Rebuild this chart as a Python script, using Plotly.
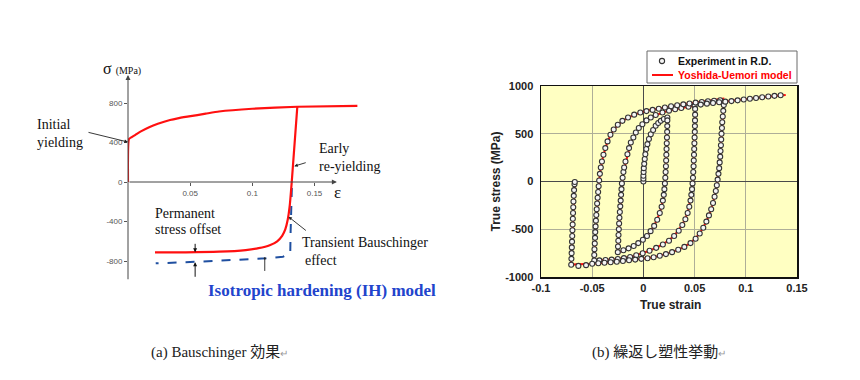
import plotly.graph_objects as go

W, H = 860, 380

# ---------------- (a) Bauschinger effect : schematic data ----------------
a_load_strain = [0, 0.0008, 0.003, 0.006, 0.010, 0.017, 0.024, 0.0338, 0.040, 0.049, 0.0625, 0.0732, 0.1, 0.1362, 0.1845]
a_load_stress = [0, 435, 455, 478, 510, 555, 590, 628, 645, 664, 692, 714, 742, 762, 772]

a_rev_strain = [0.1362, 0.1317, 0.1300, 0.1285, 0.1265, 0.1240, 0.1200, 0.1140, 0.1050, 0.0947, 0.0732, 0.0464, 0.0217]
a_rev_stress = [765, 0, -250, -380, -480, -545, -600, -640, -670, -689, -706, -712, -712]

a_ih_strain = [0.1318, 0.1313, 0.1308, 0.1305, 0.1247, 0.1113, 0.0732, 0.0464, 0.0223]
a_ih_stress = [-60, -200, -500, -722, -756, -773, -800, -813, -823]

a_ytick_vals = [-800, -400, 0, 400, 800]
a_ytick_text = ["-800", "-400", "0", "400", "800"]
a_xtick_vals = [0.05, 0.1, 0.15]
a_xtick_text = ["0.05", "0.1", "0.15"]

# ---------------- (b) cyclic plastic behaviour : experiment (circles) ----------------
e1_strain = [0, 0, 0, 0.0002, 0.0004, 0.0008, 0.0013, 0.0019, 0.0028, 0.0039, 0.0054, 0.0072, 0.0095, 0.012, 0.0145, 0.017, 0.020, 0.0234]
e1_stress = [0, 30, 60, 100, 140, 185, 235, 286, 340, 391, 445, 495, 540, 583, 612, 635, 655, 670]

e2_strain = [0.0234, 0.0233, 0.0232, 0.023, 0.0228, 0.0226, 0.0224, 0.0222, 0.022, 0.0217, 0.0214, 0.021, 0.0205, 0.0199,
             0.019, 0.0178, 0.016, 0.0135, 0.0105, 0.007, 0.0035, -0.0005, -0.005, -0.0095, -0.0145, -0.0195, -0.025]
e2_stress = [640, 580, 520, 460, 400, 340, 280, 220, 160, 100, 40, -20, -80, -140,
             -200, -265, -330, -400, -465, -520, -570, -610, -645, -675, -700, -720, -740]

e3_strain = [-0.0248, -0.0245, -0.0243, -0.024, -0.0237, -0.0234, -0.023, -0.0226, -0.0222, -0.0218, -0.0214, -0.021,
             -0.0203, -0.0195, -0.0188, -0.0175, -0.0156, -0.014, -0.0123, -0.0098, -0.0074, -0.0045, -0.001, 0.003,
             0.0072, 0.012, 0.0186, 0.025, 0.031, 0.037, 0.044, 0.050]
e3_stress = [-680, -620, -560, -500, -440, -380, -320, -260, -200, -140, -80, -20,
             40, 100, 147, 210, 286, 350, 408, 460, 513, 560, 600, 640,
             670, 697, 722, 742, 757, 770, 782, 792]

e4_strain = [0.0505, 0.0505, 0.0504, 0.0503, 0.0502, 0.05, 0.0498, 0.0496, 0.0494, 0.0492, 0.049, 0.0487, 0.0484, 0.048,
             0.0475, 0.0468, 0.046, 0.0448, 0.0432, 0.041, 0.038, 0.0345, 0.030, 0.025, 0.019, 0.0125, 0.006, -0.0007,
             -0.007, -0.013, -0.019, -0.025, -0.031, -0.037, -0.043, -0.048]
e4_stress = [760, 700, 640, 580, 520, 460, 400, 340, 280, 220, 160, 100, 40, -20,
             -80, -140, -200, -265, -330, -395, -455, -515, -570, -620, -660, -695, -725, -752,
             -772, -790, -802, -812, -818, -822, -826, -828]

e5_strain = [-0.048, -0.0478, -0.0475, -0.0472, -0.047, -0.0467, -0.0464, -0.046, -0.0456, -0.0452, -0.0447, -0.0442,
             -0.0437, -0.0432, -0.0425, -0.0416, -0.0405, -0.039, -0.0372, -0.035, -0.0322, -0.029, -0.025, -0.0205,
             -0.015, -0.009, -0.003, 0.003, 0.009, 0.015, 0.021, 0.027, 0.033, 0.039, 0.045, 0.051, 0.057, 0.063,
             0.069, 0.075]
e5_stress = [-770, -710, -650, -590, -530, -470, -410, -350, -290, -230, -170, -110,
             -50, 10, 80, 147, 210, 280, 350, 420, 490, 545, 595, 635,
             670, 700, 722, 737, 750, 762, 775, 788, 798, 808, 817, 826, 833, 840,
             846, 851]

e6_strain = [0.0785, 0.078, 0.0775, 0.077, 0.0767, 0.0763, 0.076, 0.0757, 0.0753, 0.075, 0.0745, 0.074, 0.0733, 0.0725,
             0.0717, 0.0707, 0.0695, 0.068, 0.0662, 0.064, 0.0615, 0.0585, 0.055, 0.051, 0.046, 0.040, 0.034, 0.028,
             0.022, 0.016, 0.010, 0.004, -0.002, -0.008, -0.014, -0.020, -0.026, -0.032, -0.038, -0.044, -0.050,
             -0.056, -0.0635]
e6_stress = [800, 740, 680, 620, 560, 500, 440, 380, 320, 260, 200, 140, 80, 20,
             -40, -100, -160, -225, -290, -355, -420, -485, -545, -600, -645, -685, -715, -740,
             -760, -778, -793, -803, -810, -818, -825, -833, -840, -846, -851, -856, -861,
             -876, -884]

e7_strain = [-0.0705, -0.0703, -0.0701, -0.0699, -0.0697, -0.0695, -0.0693, -0.0691, -0.0689, -0.0687, -0.0685,
             -0.0683, -0.068, -0.0677, -0.0673, -0.067]
e7_stress = [-872, -810, -750, -690, -630, -570, -510, -450, -390, -330, -270,
             -210, -150, -90, -30, -5]

e8_strain = [0.056, 0.062, 0.068, 0.074, 0.080, 0.086, 0.092, 0.098, 0.104, 0.110, 0.116, 0.122, 0.128, 0.134]
e8_stress = [805, 815, 822, 830, 836, 842, 850, 858, 866, 874, 882, 890, 897, 903]

# ---------------- (b) Yoshida-Uemori model (red line) ----------------
m_cycle_strain = [0, 0, 0.001, 0.002, 0.004, 0.0072, 0.012, 0.017, 0.0234,
                  0.0228, 0.0222, 0.0214, 0.0205, 0.019, 0.016, 0.0105, 0.0035, -0.005, -0.0145, -0.025,
                  -0.0245, -0.0237, -0.0226, -0.0214, -0.0195, -0.0156, -0.0123, -0.0074, -0.001, 0.0072, 0.0186,
                  0.031, 0.044, 0.0505,
                  0.0502, 0.0494, 0.0484, 0.0468, 0.0432, 0.038, 0.030, 0.019, 0.006, -0.007, -0.019, -0.031, -0.048,
                  -0.047, -0.0456, -0.0442, -0.0432, -0.0416, -0.039, -0.035, -0.029, -0.0205, -0.009, 0.003, 0.015,
                  0.027, 0.039, 0.051, 0.063, 0.078,
                  0.078, 0.077, 0.076, 0.075, 0.0733, 0.0717, 0.0695, 0.0662, 0.0615, 0.055, 0.046, 0.034, 0.022,
                  0.010, -0.002, -0.014, -0.026, -0.038, -0.050, -0.062, -0.0706,
                  -0.0705, -0.0697, -0.0689, -0.068, -0.067]
m_cycle_stress = [0, 150, 230, 300, 391, 495, 583, 635, 672,
                  400, 200, 40, -80, -200, -330, -465, -570, -645, -700, -745,
                  -620, -440, -260, -80, 100, 286, 408, 513, 600, 670, 722,
                  757, 782, 795,
                  520, 280, 40, -140, -330, -455, -570, -660, -725, -772, -802, -818, -828,
                  -530, -290, -110, 10, 147, 280, 420, 545, 635, 700, 740, 765,
                  790, 810, 828, 845, 868,
                  740, 620, 440, 260, 80, -40, -160, -290, -420, -545, -645, -715, -760,
                  -793, -810, -825, -840, -851, -861, -866, -870,
                  -810, -630, -390, -150, 0]
m_tail_strain = [0.056, 0.070, 0.085, 0.100, 0.115, 0.130, 0.139]
m_tail_stress = [806, 825, 843, 864, 881, 897, 905]

b_xtick_vals = [-0.1, -0.05, 0, 0.05, 0.1, 0.15]
b_xtick_text = ["-0.1", "-0.05", "0", "0.05", "0.1", "0.15"]
b_ytick_vals = [-1000, -500, 0, 500, 1000]
b_ytick_text = ["-1000", "-500", "0", "500", "1000"]

legend_names = ["Experiment in R.D.", "Yoshida-Uemori model"]

# ---------------------------------------------------------------------------
def px(x):
    return x / W


def py(y):
    return 1 - y / H


SERIF = "Liberation Serif, Times New Roman, Noto Sans CJK JP, serif"
SANS = "Liberation Sans, Arial, sans-serif"
RED = "#ff1010"
EXP_MARKER = dict(symbol="circle", size=5, color="#f6f6f6", line=dict(color="#333333", width=1.1))

fig = go.Figure()

# (a) curves
fig.add_trace(go.Scatter(x=a_ih_strain, y=a_ih_stress, mode="lines", line=dict(color="#1f4fa0", width=2, dash="dash"),
                         xaxis="x", yaxis="y", showlegend=False, hoverinfo="skip"))
fig.add_trace(go.Scatter(x=a_load_strain, y=a_load_stress, mode="lines", line=dict(color=RED, width=2.2, shape="spline", smoothing=0.5),
                         xaxis="x", yaxis="y", showlegend=False, hoverinfo="skip"))
fig.add_trace(go.Scatter(x=a_rev_strain, y=a_rev_stress, mode="lines", line=dict(color=RED, width=2.2, shape="spline", smoothing=0.6),
                         xaxis="x", yaxis="y", showlegend=False, hoverinfo="skip"))

# (b) model + experiment
m_x = m_cycle_strain + [None] + m_tail_strain
m_y = m_cycle_stress + [None] + m_tail_stress
e_x = e1_strain + e2_strain + e3_strain + e4_strain + e5_strain + e6_strain + e7_strain + e8_strain
e_y = e1_stress + e2_stress + e3_stress + e4_stress + e5_stress + e6_stress + e7_stress + e8_stress

fig.add_trace(go.Scatter(x=m_x, y=m_y, mode="lines", name=legend_names[1],
                         line=dict(color=RED, width=2), connectgaps=False, showlegend=False,
                         xaxis="x2", yaxis="y2", hoverinfo="skip"))
fig.add_trace(go.Scatter(x=e_x, y=e_y, mode="markers", name=legend_names[0], showlegend=False,
                         marker=EXP_MARKER, xaxis="x2", yaxis="y2", hoverinfo="skip"))

tickfont_a = dict(family=SANS, size=8, color="#555")
tickfont_b = dict(family=SANS, size=11, color="#222", weight="bold")

fig.update_layout(
    width=W, height=H, autosize=False,
    margin=dict(l=0, r=0, t=0, b=0, pad=0),
    paper_bgcolor="white",
    plot_bgcolor="white",
    showlegend=False,
    xaxis=dict(domain=[px(128), px(358)], range=[0, 0.185], anchor="free", position=py(182),
               showgrid=False, zeroline=False, showline=False, automargin=False,
               tickvals=a_xtick_vals, ticktext=a_xtick_text, ticks="outside", ticklen=3,
               tickcolor="#555", tickfont=tickfont_a, fixedrange=True),
    yaxis=dict(domain=[py(300.5), py(73.4)], range=[-1200, 1100], anchor="x",
               showgrid=False, zeroline=False, showline=False, automargin=False,
               tickvals=a_ytick_vals, ticktext=a_ytick_text, ticks="outside", ticklen=3,
               tickcolor="#555", tickfont=tickfont_a, fixedrange=True),
    xaxis2=dict(domain=[px(541), px(797)], range=[-0.1, 0.15], anchor="y2", automargin=False,
                showgrid=True, gridcolor="#aeae98", gridwidth=1,
                zeroline=True, zerolinecolor="#4a4a4a", zerolinewidth=1,
                showline=True, linecolor="#111", linewidth=1.5, mirror=True,
                tickvals=b_xtick_vals, ticktext=b_xtick_text, ticks="", tickfont=tickfont_b,
                fixedrange=True),
    yaxis2=dict(domain=[py(277), py(86)], range=[-1000, 1000], anchor="x2", automargin=False,
                showgrid=True, gridcolor="#aeae98", gridwidth=1,
                zeroline=True, zerolinecolor="#4a4a4a", zerolinewidth=1,
                showline=True, linecolor="#111", linewidth=1.5, mirror=True,
                tickvals=b_ytick_vals, ticktext=b_ytick_text, ticks="", tickfont=tickfont_b,
                ticklabelstandoff=4, fixedrange=True),
)

# yellow plot background for panel (b)
fig.add_shape(type="rect", xref="x2 domain", yref="y2 domain", x0=0, x1=1, y0=0, y1=1,
              fillcolor="#ffffc2", line=dict(width=0), layer="below")

# legend box for panel (b) (key only)
fig.add_shape(type="rect", xref="paper", yref="paper", x0=px(647), x1=px(797), y0=py(83), y1=py(51),
              fillcolor="white", line=dict(color="#6a6a6a", width=1))
fig.add_shape(type="circle", xref="paper", yref="paper", x0=px(659.4), x1=px(664.6), y0=py(63.6), y1=py(58.4),
              fillcolor="#f6f6f6", line=dict(color="#333333", width=1.1))
fig.add_shape(type="line", xref="paper", yref="paper", x0=px(652), x1=px(673), y0=py(75), y1=py(75),
              line=dict(color=RED, width=2))

ann = []
# legend texts
ann.append(dict(x=px(676), y=py(61), xref="paper", yref="paper", xanchor="left", yanchor="middle",
                text=legend_names[0], showarrow=False,
                font=dict(family=SANS, size=10.5, color="#111", weight="bold")))
ann.append(dict(x=px(676), y=py(75), xref="paper", yref="paper", xanchor="left", yanchor="middle",
                text=legend_names[1], showarrow=False,
                font=dict(family=SANS, size=10.5, color="#ff0000", weight="bold")))

# axis arrows for (a)
ann.append(dict(x=0, y=1085, ax=0, ay=-1000, xref="x", yref="y", axref="x", ayref="y", text="",
                showarrow=True, arrowhead=2, arrowsize=1, arrowwidth=1, arrowcolor="#444"))
ann.append(dict(x=0.168, y=0, ax=0, ay=0, xref="x", yref="y", axref="x", ayref="y", text="",
                showarrow=True, arrowhead=2, arrowsize=1, arrowwidth=1, arrowcolor="#444"))
# axis captions (a)
ann.append(dict(x=px(101), y=py(68), xref="paper", yref="paper", xanchor="left", yanchor="middle",
                text="σ <span style='font-size:10px'>(MPa)</span>", showarrow=False,
                font=dict(family=SERIF, size=16, color="#111")))
ann.append(dict(x=px(337), y=py(192), xref="paper", yref="paper", xanchor="center", yanchor="middle",
                text="ε", showarrow=False, font=dict(family=SERIF, size=17, color="#111")))

# text annotations (a)
txt = dict(family=SERIF, size=14, color="#111")
for s, x0, yc in [("Initial", 35, 124), ("yielding", 35, 142),
                  ("Early", 317, 148), ("re-yielding", 317, 167),
                  ("Permanent", 153, 213), ("stress offset", 153, 229),
                  ("Transient Bauschinger", 300, 242), ("effect", 303, 260)]:
    ann.append(dict(x=px(x0), y=py(yc), xref="paper", yref="paper", xanchor="left", yanchor="middle",
                    text=s, showarrow=False, font=txt))

ann.append(dict(x=0, y=405, xref="x", yref="y", ax=-41, ay=-10, text="", showarrow=True,
                arrowhead=2, arrowsize=0.8, arrowwidth=0.9, arrowcolor="#222"))
ann.append(dict(x=0.1337, y=160, xref="x", yref="y", ax=13, ay=-4, text="", showarrow=True,
                arrowhead=2, arrowsize=0.8, arrowwidth=0.9, arrowcolor="#222"))
ann.append(dict(x=0.054, y=-712, xref="x", yref="y", ax=0, ay=-10, text="", showarrow=True,
                arrowhead=2, arrowsize=0.8, arrowwidth=1, arrowcolor="#111"))
ann.append(dict(x=0.054, y=-813, xref="x", yref="y", ax=0, ay=16, text="", showarrow=True,
                arrowhead=2, arrowsize=0.8, arrowwidth=1, arrowcolor="#111"))
ann.append(dict(x=0.129, y=-351, xref="x", yref="y", ax=19, ay=15, text="", showarrow=True,
                arrowhead=2, arrowsize=0.8, arrowwidth=0.9, arrowcolor="#222"))
ann.append(dict(x=0.110, y=-774, xref="x", yref="y", ax=0, ay=14, text="", showarrow=True,
                arrowhead=6, arrowsize=0.6, arrowwidth=0.9, arrowcolor="#222"))
ann.append(dict(x=px(322), y=py(290), xref="paper", yref="paper", xanchor="center", yanchor="middle",
                text="<b>Isotropic hardening (IH) model</b>", showarrow=False,
                font=dict(family=SERIF, size=17, color="#2244cc")))

# axis titles (b)
ann.append(dict(x=px(495), y=py(181.5), xref="paper", yref="paper", xanchor="center", yanchor="middle",
                text="True stress (MPa)", textangle=-90, showarrow=False,
                font=dict(family=SANS, size=12, color="#222", weight="bold")))
ann.append(dict(x=px(670), y=py(305), xref="paper", yref="paper", xanchor="center", yanchor="middle",
                text="True strain", showarrow=False,
                font=dict(family=SANS, size=12, color="#222", weight="bold")))

# captions
cap = dict(family=SERIF, size=15, color="#222")
ann.append(dict(x=px(149), y=py(352), xref="paper", yref="paper", xanchor="left", yanchor="middle",
                text="(a) Bauschinger 効果<span style='font-size:10px;color:#999'>↵</span>", showarrow=False, font=cap))
ann.append(dict(x=px(590), y=py(352), xref="paper", yref="paper", xanchor="left", yanchor="middle",
                text="(b) 繰返し塑性挙動<span style='font-size:10px;color:#999'>↵</span>", showarrow=False, font=cap))

fig.update_layout(annotations=ann)

fig.write_html("out.html", include_plotlyjs=True,
               config={"displayModeBar": False, "staticPlot": True, "responsive": False},
               post_script="document.body.style.margin='0px';document.body.style.overflow='hidden';")
